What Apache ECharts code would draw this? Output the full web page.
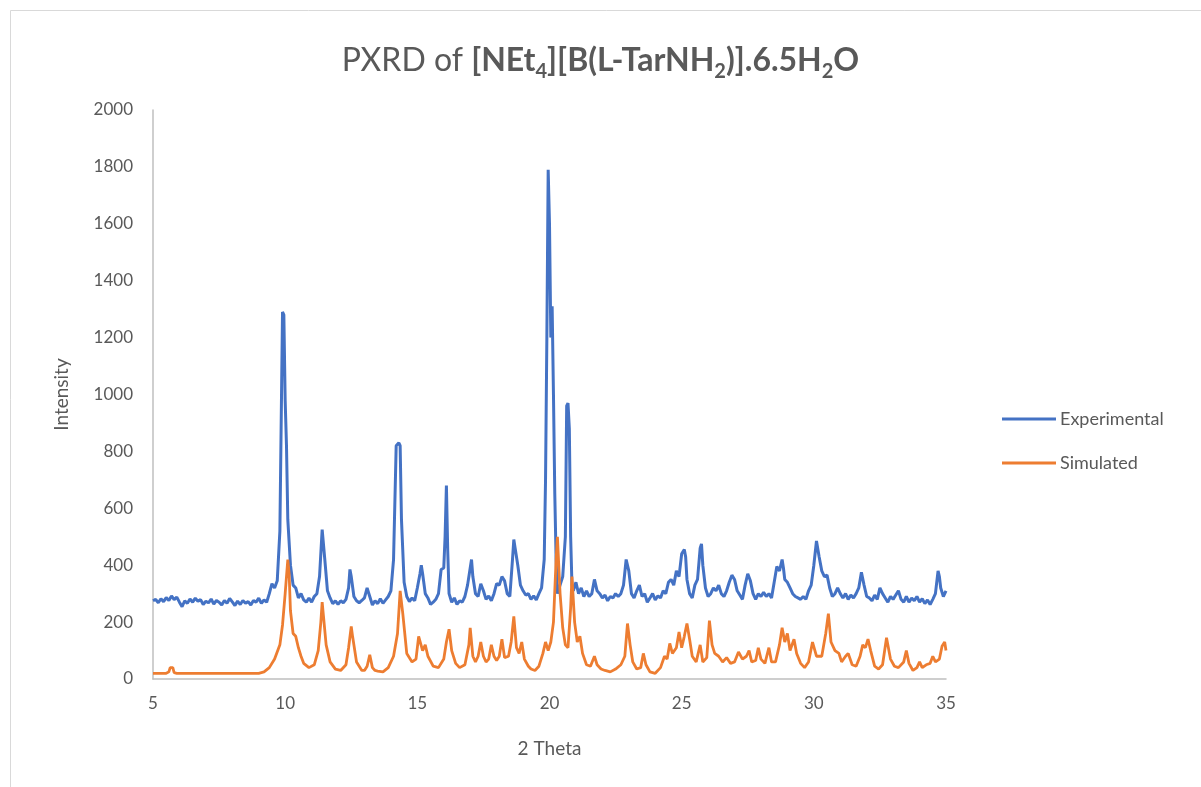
<!DOCTYPE html>
<html>
<head>
<meta charset="utf-8">
<title>PXRD</title>
<script src="https://cdn.jsdelivr.net/npm/echarts@6/dist/echarts.min.js"></script>
<style>
  html, body { margin: 0; padding: 0; background: #fff; }
  #main { width: 1201px; height: 787px; }
</style>
</head>
<body>
<div id="main"></div>
<script>
// data: [2 theta, intensity]
var experimental = [
  [5.0,275],[5.1,280],[5.2,268],[5.3,282],[5.4,272],[5.5,286],[5.6,276],[5.7,292],[5.8,279],[5.9,288],
  [6.0,270],[6.1,254],[6.2,275],[6.3,266],[6.4,281],[6.5,270],[6.6,284],[6.7,273],[6.8,279],[6.9,262],
  [7.0,273],[7.1,268],[7.2,281],[7.3,263],[7.4,276],[7.5,270],[7.6,260],[7.7,276],[7.8,266],[7.9,283],
  [8.0,271],[8.1,258],[8.2,274],[8.3,262],[8.4,276],[8.5,266],[8.6,272],[8.7,260],[8.8,276],[8.9,270],
  [9.0,284],[9.1,266],[9.2,278],[9.3,270],[9.4,300],[9.5,335],[9.6,320],[9.7,345],[9.8,520],[9.9,1290],
  [9.95,1280],[10.0,980],[10.05,820],[10.1,560],[10.2,400],[10.3,330],[10.4,320],[10.5,285],[10.6,300],
  [10.7,278],[10.8,270],[10.9,284],[11.0,270],[11.1,290],[11.2,300],[11.3,360],[11.4,525],[11.45,520],
  [11.5,420],[11.6,310],[11.7,285],[11.8,265],[11.9,275],[12.0,262],[12.1,275],[12.2,268],[12.3,280],
  [12.4,320],[12.45,385],[12.5,360],[12.6,290],[12.7,275],[12.8,268],[12.9,276],[13.0,285],[13.1,320],
  [13.2,290],[13.3,260],[13.4,275],[13.5,265],[13.6,282],[13.7,266],[13.8,278],[13.9,290],[14.0,310],
  [14.1,420],[14.2,820],[14.3,830],[14.35,820],[14.4,560],[14.5,340],[14.6,290],[14.7,272],[14.8,285],
  [14.9,275],[15.0,320],[15.1,370],[15.15,400],[15.2,370],[15.3,300],[15.4,285],[15.5,262],[15.6,270],
  [15.7,280],[15.8,300],[15.9,385],[16.0,390],[16.05,500],[16.1,680],[16.15,450],[16.2,300],[16.3,270],
  [16.4,285],[16.5,262],[16.6,275],[16.7,270],[16.8,290],[16.9,330],[17.0,390],[17.05,420],[17.1,360],
  [17.2,300],[17.3,290],[17.4,335],[17.5,310],[17.6,280],[17.7,292],[17.8,275],[17.9,300],[18.0,335],
  [18.1,330],[18.2,360],[18.3,345],[18.4,300],[18.5,290],[18.6,420],[18.65,490],[18.7,460],[18.8,400],
  [18.9,330],[19.0,310],[19.1,295],[19.2,300],[19.3,280],[19.4,292],[19.5,278],[19.6,300],[19.7,320],
  [19.8,420],[19.85,700],[19.9,1200],[19.95,1790],[20.0,1600],[20.05,1200],[20.1,1310],[20.15,1000],
  [20.2,650],[20.25,420],[20.3,300],[20.4,330],[20.5,360],[20.6,500],[20.65,960],[20.7,970],[20.75,880],
  [20.8,500],[20.85,330],[20.9,310],[21.0,340],[21.1,300],[21.2,320],[21.3,290],[21.4,310],[21.5,290],
  [21.6,300],[21.7,350],[21.8,310],[21.9,300],[22.0,285],[22.1,295],[22.2,275],[22.3,290],[22.4,285],
  [22.5,300],[22.6,290],[22.7,300],[22.8,330],[22.9,420],[23.0,380],[23.1,300],[23.2,285],[23.3,310],
  [23.4,330],[23.5,290],[23.6,300],[23.7,270],[23.8,285],[23.9,300],[24.0,278],[24.1,292],[24.2,285],
  [24.3,310],[24.4,300],[24.5,340],[24.6,350],[24.7,330],[24.8,380],[24.9,360],[25.0,440],[25.1,455],
  [25.15,430],[25.2,350],[25.3,300],[25.4,285],[25.5,330],[25.6,350],[25.7,460],[25.75,475],[25.8,400],
  [25.9,320],[26.0,290],[26.1,300],[26.2,320],[26.3,310],[26.4,330],[26.5,300],[26.6,290],[26.7,310],
  [26.8,340],[26.9,365],[27.0,350],[27.1,310],[27.2,295],[27.3,280],[27.4,330],[27.5,370],[27.6,345],
  [27.7,300],[27.8,280],[27.9,300],[28.0,290],[28.1,305],[28.2,290],[28.3,300],[28.4,285],[28.5,340],
  [28.6,395],[28.7,380],[28.8,420],[28.85,390],[28.9,350],[29.0,340],[29.1,320],[29.2,300],[29.3,290],
  [29.4,285],[29.5,280],[29.6,290],[29.7,280],[29.8,310],[29.9,330],[30.0,400],[30.1,485],[30.15,490],
  [30.2,430],[30.3,380],[30.4,360],[30.5,365],[30.6,320],[30.7,290],[30.8,300],[30.9,320],[31.0,300],
  [31.1,285],[31.2,300],[31.3,280],[31.4,295],[31.5,285],[31.6,300],[31.7,320],[31.8,375],[31.9,330],
  [32.0,290],[32.1,285],[32.2,275],[32.3,295],[32.4,280],[32.5,320],[32.6,300],[32.7,285],[32.8,270],
  [32.9,290],[33.0,280],[33.1,295],[33.2,310],[33.3,280],[33.4,270],[33.5,290],[33.6,270],[33.7,285],
  [33.8,275],[33.9,290],[34.0,270],[34.1,282],[34.2,265],[34.3,278],[34.4,262],[34.5,280],[34.6,300],
  [34.7,380],[34.75,360],[34.8,320],[34.9,290],[35.0,310]
];

var simulated = [
  [5.0,20],[5.5,20],[5.6,25],[5.65,40],[5.7,45],[5.75,40],[5.8,22],[5.9,20],[9.0,20],[9.2,25],
  [9.4,40],[9.6,70],[9.8,120],[9.9,190],[10.0,300],[10.1,420],[10.15,370],[10.2,240],[10.3,160],[10.4,150],
  [10.5,110],[10.6,80],[10.7,55],[10.9,40],[11.1,50],[11.25,100],[11.35,200],[11.4,270],[11.45,220],[11.55,120],
  [11.7,60],[11.9,35],[12.1,30],[12.3,50],[12.4,110],[12.5,185],[12.55,150],[12.7,60],[12.9,30],[13.0,30],
  [13.1,45],[13.2,85],[13.3,40],[13.4,30],[13.5,28],[13.7,25],[13.9,40],[14.1,80],[14.25,160],[14.35,310],
  [14.45,230],[14.6,90],[14.8,60],[14.95,70],[15.05,150],[15.1,155],[15.2,100],[15.3,120],[15.4,80],[15.6,45],
  [15.8,40],[16.0,70],[16.1,130],[16.2,175],[16.3,100],[16.45,55],[16.6,40],[16.8,50],[16.95,120],[17.0,180],
  [17.1,80],[17.2,60],[17.3,80],[17.4,130],[17.5,80],[17.6,60],[17.7,70],[17.8,120],[17.9,80],[18.0,65],
  [18.1,80],[18.2,140],[18.3,75],[18.45,80],[18.55,130],[18.65,220],[18.75,110],[18.85,90],[18.95,130],[19.05,70],
  [19.2,45],[19.3,35],[19.45,30],[19.6,45],[19.75,90],[19.85,130],[19.95,100],[20.05,130],[20.15,200],[20.25,420],
  [20.3,500],[20.4,300],[20.5,180],[20.6,120],[20.7,110],[20.8,250],[20.85,360],[20.95,200],[21.05,130],[21.15,150],
  [21.25,90],[21.4,50],[21.55,45],[21.7,80],[21.8,50],[21.95,35],[22.1,30],[22.3,25],[22.5,35],[22.7,50],
  [22.85,80],[22.95,195],[23.05,120],[23.15,60],[23.3,35],[23.45,40],[23.55,90],[23.65,50],[23.8,25],[24.0,20],
  [24.2,40],[24.35,80],[24.45,70],[24.55,125],[24.65,90],[24.8,110],[24.9,165],[25.0,110],[25.1,150],[25.2,195],
  [25.3,140],[25.4,80],[25.55,60],[25.7,120],[25.8,60],[25.95,75],[26.05,205],[26.15,120],[26.25,90],[26.4,80],
  [26.55,60],[26.7,75],[26.85,55],[27.0,60],[27.15,95],[27.3,70],[27.45,80],[27.55,100],[27.65,60],[27.8,65],
  [27.9,110],[28.0,70],[28.15,55],[28.3,110],[28.4,60],[28.55,60],[28.7,120],[28.8,180],[28.9,130],[29.0,160],
  [29.1,100],[29.25,140],[29.35,90],[29.5,55],[29.65,40],[29.8,60],[29.95,130],[30.1,80],[30.3,80],[30.45,160],
  [30.55,230],[30.65,130],[30.8,100],[30.95,90],[31.05,60],[31.2,80],[31.3,90],[31.45,50],[31.6,45],[31.75,80],
  [31.85,120],[31.95,110],[32.05,140],[32.15,100],[32.3,45],[32.45,35],[32.6,50],[32.75,145],[32.9,70],[33.05,45],
  [33.2,40],[33.4,60],[33.5,100],[33.6,55],[33.75,30],[33.9,40],[34.0,60],[34.1,40],[34.25,50],[34.4,55],
  [34.5,80],[34.6,60],[34.75,70],[34.85,115],[34.95,130],[35.0,100]
];

var xTicks = [5, 35, 5];        // min, max, step
var yTicks = [0, 2000, 200];

var myChart = echarts.init(document.getElementById('main'));
var grey = '#595959';
var font = 'Lato, "Open Sans", sans-serif';

var option = {
    backgroundColor: '#ffffff',
    textStyle: { fontFamily: font },
    title: {
        left: 'center',
        top: 35,
        text: '{n|PXRD of }{b|[NEt}{s|4}{b|][B(L-TarNH}{s|2}{b|)].6.5H}{s|2}{b|O}',
        textStyle: {
            fontWeight: 'normal',
            rich: {
                n: { fontSize: 32, color: grey, fontWeight: 'normal', fontFamily: font },
                b: { fontSize: 32, color: grey, fontWeight: 'bold', fontFamily: font },
                s: { fontSize: 20, color: grey, fontWeight: 'bold', fontFamily: font, padding: [22, 0, 0, 0] }
            }
        }
    },
    legend: {
        orient: 'vertical',
        left: 997,
        top: 405,
        itemGap: 26,
        itemWidth: 54,
        itemHeight: 3,
        icon: 'rect',
        textStyle: { color: grey, fontSize: 18, fontFamily: font, padding: [0, 0, 0, -1] },
        data: ['Experimental', 'Simulated']
    },
    grid: { left: 153, right: 255, top: 110, bottom: 108 },
    xAxis: {
        type: 'value',
        min: xTicks[0], max: xTicks[1], interval: xTicks[2],
        name: '2 Theta',
        nameLocation: 'middle',
        nameGap: 60,
        nameTextStyle: { color: grey, fontSize: 19, fontFamily: font },
        axisLine: { lineStyle: { color: '#bfbfbf', width: 1.5 } },
        axisTick: { show: false },
        axisLabel: { color: grey, fontSize: 17, margin: 16 },
        splitLine: { show: false }
    },
    yAxis: {
        type: 'value',
        min: yTicks[0], max: yTicks[1], interval: yTicks[2],
        name: 'Intensity',
        nameLocation: 'middle',
        nameGap: 82,
        nameTextStyle: { color: grey, fontSize: 19, fontFamily: font },
        axisLine: { show: true, lineStyle: { color: '#bfbfbf', width: 1.5 } },
        axisTick: { show: false },
        axisLabel: { color: grey, fontSize: 17, margin: 20, formatter: function (v) { return String(v); } },
        splitLine: { show: false }
    },
    series: [
        {
            name: 'Experimental',
            type: 'line',
            data: experimental,
            showSymbol: false,
            color: '#4472C4',
            lineStyle: { width: 3, color: '#4472C4' },
            animation: false
        },
        {
            name: 'Simulated',
            type: 'line',
            data: simulated,
            showSymbol: false,
            color: '#ED7D31',
            lineStyle: { width: 2.8, color: '#ED7D31' },
            animation: false
        }
    ],
    graphic: [
        {
            type: 'rect',
            left: 8, top: 8,
            shape: { width: 1210, height: 800 },
            style: { fill: 'none', stroke: '#d9d9d9', lineWidth: 1 },
            silent: true
        }
    ]
};
myChart.setOption(option);
</script>
</body>
</html>
